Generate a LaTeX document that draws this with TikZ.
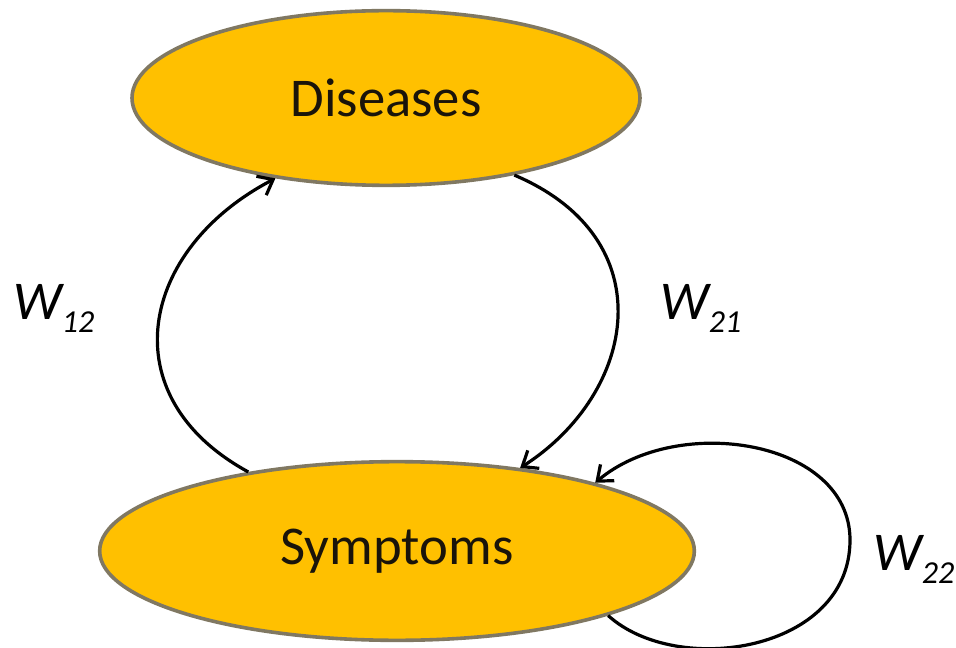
\documentclass[tikz,border=0pt]{standalone}
\usepackage{fontspec}
\setmainfont{Carlito}
\usetikzlibrary{shapes.geometric,arrows.meta}
\definecolor{stategold}{RGB}{255,192,0}
\definecolor{stateedge}{RGB}{128,120,98}
\definecolor{inktext}{RGB}{26,20,10}
\begin{document}
\begin{tikzpicture}[x=0.75pt,y=-0.75pt,
  state/.style={ellipse,draw=stateedge,line width=2.7pt,fill=stategold,
    inner sep=0pt,text=inktext,font=\fontsize{41}{48}\selectfont},
  link/.style={line width=2.4pt,-{Straight Barb[length=10pt,width=16pt]}},
  weight/.style={inner sep=0pt,anchor=base west,font=\fontsize{41}{48}\selectfont\itshape}]
  \useasboundingbox (0,0) rectangle (956,648);

  % the two states
  \node[state,minimum width=381pt,minimum height=131pt] (dis) at (386,98) {Diseases};
  \node[state,minimum width=446pt,minimum height=134pt] (sym) at (397,551) {Symptoms};

  % transitions between them
  \draw[link] (sym.152) .. controls (109,396) and (140,249) .. (dis.216);
  \draw[link] (dis.329) .. controls (665,239) and (637,393) .. (sym.34);

  % self loop on the symptoms
  \coordinate (loopR) at (850,540);
  \draw[link] (sym.343) .. controls (677,678) and (850,652) .. (loopR)
    .. controls (850,440) and (678,413) .. (sym.19);

  % weights
  \newcommand{\wlabel}[1]{W\raisebox{-9.75pt}{\fontsize{24}{28}\selectfont #1}}
  \node[weight] (w12) at (13,320) {\wlabel{12}};
  \node[weight] (w21) at (660,320) {\wlabel{21}};
  \node[weight] (w22) at (873,570) {\wlabel{22}};
\end{tikzpicture}
\end{document}
